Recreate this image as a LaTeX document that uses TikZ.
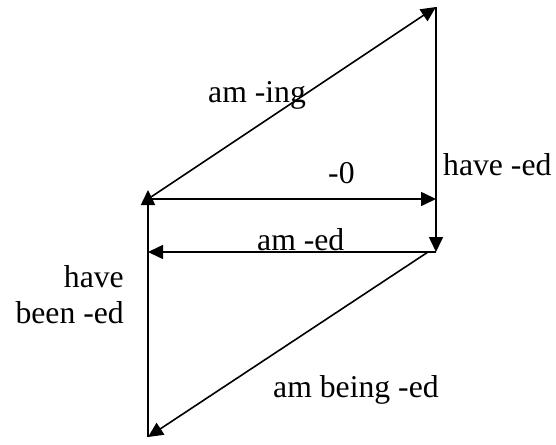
\documentclass[tikz,border=0pt]{standalone}
\usepackage{fontspec}
\setmainfont{Liberation Serif}
\usetikzlibrary{arrows.meta}
\begin{document}
\begin{tikzpicture}[x=1pt,y=-1pt,
  conn/.style={line width=1.6pt,-{Triangle[length=15pt,width=14pt]}},
  lbl/.style={inner sep=0pt,font=\fontsize{31.7}{36}\selectfont}]
\useasboundingbox (0,0) rectangle (556,444);
\coordinate (T) at (436,7);
\coordinate (A) at (148,199);
\coordinate (Aup) at (148,190);
\coordinate (R) at (436,199);
\coordinate (D) at (436,252);
\coordinate (Ds) at (428,252);
\coordinate (L) at (148,252);
\coordinate (B) at (148,437);
\draw[conn] (A) -- (T);
\draw[conn] (T) -- (D);
\draw[conn] (A) -- (R);
\draw[conn] (D) -- (L);
\draw[conn] (Ds) -- (B);
\draw[conn] (B) -- (Aup);
\node[lbl,anchor=base west] (l1) at (208,102) {am -ing};
\node[lbl,anchor=base west] (l2) at (328,183) {-0};
\node[lbl,anchor=base west] (l3) at (443,175) {have -ed};
\node[lbl,anchor=base west] (l4) at (257,250) {am -ed};
\node[lbl,anchor=base east] (l5) at (124,287) {have};
\node[lbl,anchor=base east] (l6) at (124,323) {been -ed};
\node[lbl,anchor=base west] (l7) at (273,397) {am being -ed};
\end{tikzpicture}
\end{document}
